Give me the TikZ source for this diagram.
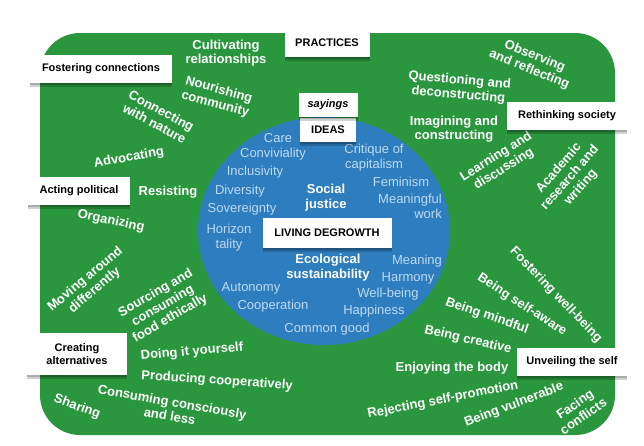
\documentclass[tikz,border=0pt]{standalone}
\usepackage{fontspec}
\setmainfont{Liberation Sans}
\definecolor{fieldgreen}{RGB}{42,150,62}
\definecolor{ideablue}{RGB}{46,125,190}
\definecolor{idealight}{RGB}{188,218,243}
\tikzset{
  labelbox/.style={fill=white, inner sep=2pt, align=center,
    font=\bfseries\fontsize{11}{13}\selectfont,
    preaction={fill=black, opacity=0.18, transform canvas={yshift=-4pt}},
    preaction={fill=black, opacity=0.18, transform canvas={yshift=-2pt}}},
  practice/.style={text=white, align=center, inner sep=0pt,
    font=\bfseries\fontsize{13}{14.5}\selectfont},
  idea/.style={text=idealight, align=center, inner sep=0pt,
    font=\fontsize{13}{15}\selectfont},
  value/.style={text=white, align=center, inner sep=0pt,
    font=\bfseries\fontsize{13}{15}\selectfont}
}
\begin{document}
\begin{tikzpicture}[x=1pt, y=-1pt]
\useasboundingbox (0,0) rectangle (644,445);
\fill[white] (0,0) rectangle (644,445);

% field of practices
\fill[fieldgreen, rounded corners=40pt] (40,33) rectangle (615,435);
% circle of ideas
\fill[ideablue] (324,231) ellipse [x radius=126, y radius=114];

% ideas inside the circle
\node[idea] (care) at (278,138) {Care};
\node[idea] (convivial) at (273,154) {Conviviality};
\node[idea] (inclusive) at (255,172) {Inclusivity};
\node[idea] (diversity) at (240,191) {Diversity};
\node[idea] (sovereign) at (242,209) {Sovereignty};
\node[idea] (horizon) at (229,238) {Horizon\\tality};
\node[idea] (critique) at (374,158) {Critique of\\capitalism};
\node[idea] (feminism) at (401,182) {Feminism};
\node[idea, align=right] (work) at (410,206) {Meaningful\\work};
\node[idea] (meaning) at (417,261) {Meaning};
\node[idea] (harmony) at (408,278) {Harmony};
\node[idea] (autonomy) at (251,288) {Autonomy};
\node[idea] (cooperation) at (273,306) {Cooperation};
\node[idea] (wellbeing) at (388,294) {Well-being};
\node[idea] (happiness) at (374,311) {Happiness};
\node[idea] (common) at (327,329) {Common good};
\node[value] (justice) at (326,198) {Social\\justice};
\node[value] (ecology) at (328,268) {Ecological\\sustainability};

% practices, top and left
\node[practice] (cultivating) at (226,53) {Cultivating\\relationships};
\node[practice, rotate=-15] (nourishing) at (217,97) {Nourishing\\community};
\node[practice, rotate=-28] (nature) at (158,117) {Connecting\\with nature};
\node[practice, rotate=10] (advocating) at (129,158) {Advocating};
\node[practice] (resisting) at (168,192) {Resisting};
\node[practice, rotate=-12] (organizing) at (111,221) {Organizing};
\node[practice, rotate=40] (moving) at (90,285) {Moving around\\differently};
\node[practice, rotate=30] (sourcing) at (163,306) {Sourcing and\\consuming\\food ethically};
\node[practice, rotate=5] (diy) at (192,352) {Doing it yourself};
\node[practice, rotate=-4] (producing) at (217,381) {Producing cooperatively};
\node[practice, rotate=-10] (consuming) at (171,409) {Consuming consciously\\and less};
\node[practice, rotate=-20] (sharing) at (77,407) {Sharing};

% practices, right
\node[practice, rotate=-22] (observing) at (532,63) {Observing\\and reflecting};
\node[practice, rotate=-5] (questioning) at (459,88) {Questioning and\\deconstructing};
\node[practice] (imagining) at (454,129) {Imagining and\\constructing};
\node[practice, rotate=32] (learning) at (500,163) {Learning and\\discussing};
\node[practice, rotate=49] (academic) at (570,178) {Academic\\research and\\writing};
\node[practice, rotate=-46] (fostering wb) at (556,295) {Fostering well-being};
\node[practice, rotate=-33] (selfaware) at (522,305) {Being self-aware};
\node[practice, rotate=-19] (mindful) at (487,316) {Being mindful};
\node[practice, rotate=-13] (creative) at (468,340) {Being creative};
\node[practice] (body) at (452,368) {Enjoying the body};
\node[practice, rotate=11] (rejecting) at (443,400) {Rejecting self-promotion};
\node[practice, rotate=21] (vulnerable) at (514,405) {Being vulnerable};
\node[practice, rotate=35] (facing) at (579,410) {Facing\\conflicts};

% category boxes
\node[labelbox, minimum width=85pt, minimum height=27pt] (practices) at (327,43) {PRACTICES};
\node[labelbox, minimum width=142pt, minimum height=28pt] (fostering) at (101,69) {Fostering connections};
\node[labelbox, minimum width=56pt, minimum height=24pt] (ideasbox) at (328,130) {IDEAS};
\node[labelbox, minimum width=59pt, minimum height=24pt] (sayings) at (328,105) {\itshape sayings};
\node[labelbox, minimum width=120pt, minimum height=28pt] (rethinking) at (567,116) {Rethinking society};
\node[labelbox, minimum width=102pt, minimum height=28pt] (acting) at (79,191) {Acting political};
\node[labelbox, minimum width=129pt, minimum height=30pt] (living) at (327,233) {LIVING DEGROWTH};
\node[labelbox, minimum width=100pt, minimum height=42pt] (creating) at (77,354) {Creating\\alternatives};
\node[labelbox, minimum width=110pt, minimum height=28pt] (unveiling) at (572,362) {Unveiling the self};
\end{tikzpicture}
\end{document}
